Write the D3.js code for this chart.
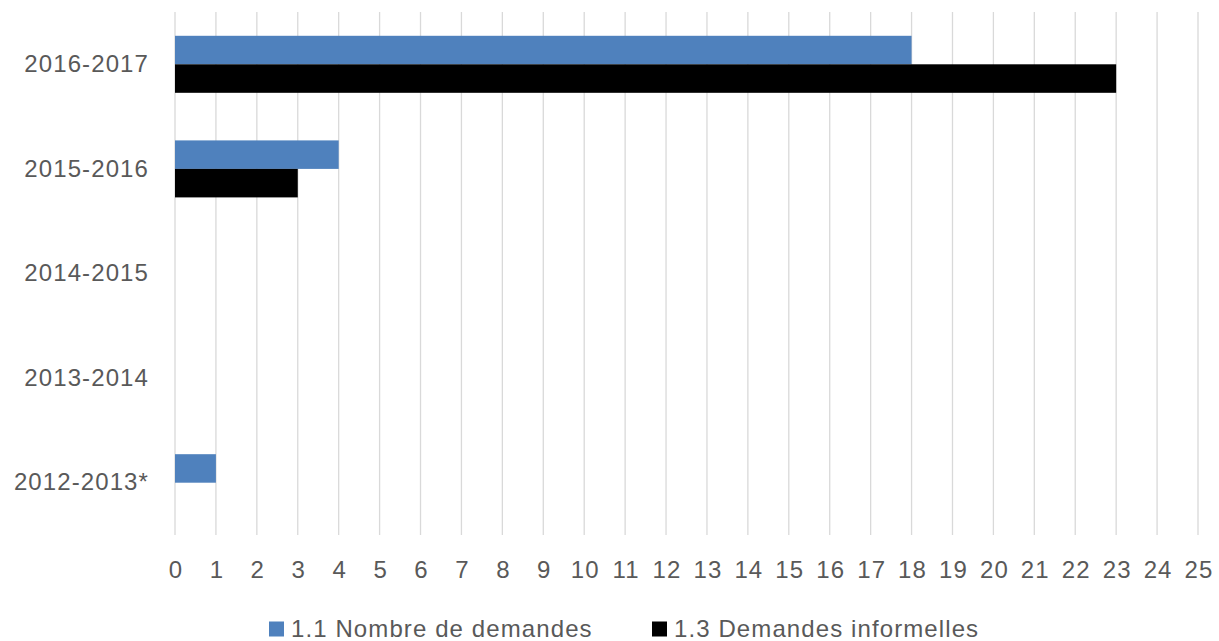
<!DOCTYPE html>
<html>
<head>
<meta charset="utf-8">
<script src="https://cdn.jsdelivr.net/npm/d3@7"></script>
<style>
  html, body { margin: 0; padding: 0; background: #fff; }
  svg { display: block; font-family: "Liberation Sans", Arial, Helvetica, sans-serif; }
</style>
</head>
<body>
<svg id="chart" width="1219" height="641"></svg>
<script>
const categories = ["2016-2017", "2015-2016", "2014-2015", "2013-2014", "2012-2013*"]
const seriesNames = ["1.1 Nombre de demandes", "1.3 Demandes informelles"]
const demandes = [18, 4, 0, 0, 1]
const informelles = [23, 3, 0, 0, 0]
const xTicks = d3.range(0, 26)
const colors = ["#4f81bd", "#000000"]

const svg = d3.select("#chart")
const margin = { top: 12, right: 21, bottom: 106, left: 175 }
const W = 1219, H = 641
const innerW = W - margin.left - margin.right
const innerH = H - margin.top - margin.bottom
const FONT = "\"Liberation Sans\", Arial, sans-serif"
const textStyle = (sel) => sel
  .attr("font-size", 24)
  .attr("letter-spacing", 1.1)
  .attr("fill", "#595959")
  .attr("font-family", FONT)

const root = svg.append("g").attr("transform", `translate(${margin.left},${margin.top})`)

const x = d3.scaleLinear().domain([0, 25]).range([0, innerW])
const y = d3.scaleBand().domain(categories).range([0, innerH]).paddingInner(0.455).paddingOuter(0.2275)
const ySub = d3.scaleBand().domain([0, 1]).range([0, y.bandwidth()])

// vertical gridlines
root.append("g")
  .selectAll("line")
  .data(xTicks)
  .join("line")
  .attr("x1", (d) => x(d)).attr("x2", (d) => x(d))
  .attr("y1", 0).attr("y2", innerH)
  .attr("stroke", "#d9d9d9")
  .attr("stroke-width", 1.3)

// bars
const rows = categories.map((c, i) => ({ cat: c, vals: [demandes[i], informelles[i]] }))
root.append("g")
  .selectAll("g")
  .data(rows)
  .join("g")
  .attr("transform", (d) => `translate(0,${y(d.cat)})`)
  .selectAll("rect")
  .data((d) => d.vals.map((v, k) => ({ v, k })))
  .join("rect")
  .attr("x", x(0))
  .attr("y", (d) => ySub(d.k))
  .attr("width", (d) => x(d.v) - x(0))
  .attr("height", ySub.bandwidth())
  .attr("fill", (d) => colors[d.k])

// x axis labels
const xAxis = root.append("g")
  .attr("transform", `translate(0,${innerH})`)
  .call(d3.axisBottom(x).tickValues(xTicks).tickSize(0).tickPadding(26).tickFormat(d3.format("d")))
xAxis.select(".domain").remove()
xAxis.selectAll("text").call(textStyle).attr("dx", 0.5)

// y axis labels
const yAxis = root.append("g")
  .call(d3.axisLeft(y).tickSize(0).tickPadding(26))
yAxis.select(".domain").remove()
yAxis.selectAll("text").call(textStyle)

// legend
const legendX = [269, 652]
const legend = svg.append("g")
  .selectAll("g")
  .data(seriesNames)
  .join("g")
  .attr("transform", (d, i) => `translate(${legendX[i]},629)`)
legend.append("rect")
  .attr("x", 0).attr("y", -7.5).attr("width", 15).attr("height", 15)
  .attr("fill", (d, i) => colors[i])
legend.append("text")
  .attr("x", 22).attr("dy", "0.35em")
  .call(textStyle)
  .text((d) => d)
</script>
</body>
</html>
